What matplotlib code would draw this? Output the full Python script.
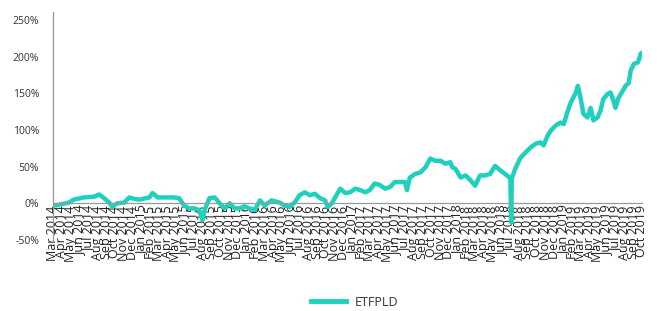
import matplotlib
matplotlib.use("Agg")
import matplotlib.pyplot as plt
import matplotlib.dates as mdates
import pandas as pd

series_name = "ETFPLD"
dates = [
    "2014-03-01", "2014-03-21", "2014-04-25", "2014-05-12", "2014-06-16", "2014-07-21",
    "2014-08-08", "2014-08-25", "2014-09-12", "2014-09-22", "2014-10-09", "2014-11-03",
    "2014-11-20", "2014-12-08", "2014-12-25", "2015-01-29", "2015-02-09", "2015-02-26",
    "2015-03-20", "2015-04-25", "2015-05-12", "2015-05-29", "2015-06-16", "2015-07-03",
    "2015-07-20", "2015-08-01", "2015-08-08", "2015-08-25", "2015-09-12", "2015-09-29",
    "2015-10-16", "2015-11-03", "2015-11-20", "2015-12-07", "2015-12-24", "2016-01-11",
    "2016-01-29", "2016-02-16", "2016-03-03", "2016-03-27", "2016-04-24", "2016-05-11",
    "2016-05-28", "2016-06-15", "2016-07-02", "2016-07-20", "2016-08-07", "2016-08-24",
    "2016-09-11", "2016-09-28", "2016-10-08", "2016-10-22", "2016-11-02", "2016-11-20",
    "2016-12-07", "2016-12-24", "2017-01-11", "2017-01-28", "2017-02-15", "2017-03-02",
    "2017-03-19", "2017-04-06", "2017-04-24", "2017-05-11", "2017-05-28", "2017-06-15",
    "2017-07-02", "2017-07-09", "2017-07-19", "2017-08-06", "2017-08-24", "2017-09-11",
    "2017-09-28", "2017-10-15", "2017-11-02", "2017-11-19", "2017-12-06", "2017-12-13",
    "2017-12-24", "2018-01-11", "2018-01-28", "2018-02-15", "2018-03-02", "2018-03-19",
    "2018-04-06", "2018-04-23", "2018-05-10", "2018-05-28", "2018-06-14", "2018-07-02",
    "2018-07-05", "2018-07-07", "2018-07-19", "2018-08-06", "2018-08-23", "2018-09-10",
    "2018-09-27", "2018-10-14", "2018-10-25", "2018-11-08", "2018-11-19", "2018-12-06",
    "2018-12-23", "2019-01-03", "2019-01-17", "2019-01-27", "2019-02-14", "2019-02-21",
    "2019-03-02", "2019-03-12", "2019-03-26", "2019-04-06", "2019-04-16", "2019-04-30",
    "2019-05-10", "2019-05-20", "2019-06-04", "2019-06-14", "2019-06-24", "2019-07-01",
    "2019-07-12", "2019-07-26", "2019-08-05", "2019-08-16", "2019-08-23", "2019-09-03",
    "2019-09-17", "2019-09-27", "2019-10-01",
]
values = [
    -3, -2, 1, 5, 8, 9,
    12, 7, 1, -5, 0, 1,
    8, 6, 5, 8, 14, 8,
    8, 8, 7, -3, -7, -7,
    -9, -23, -9, 7, 8, 0,
    -7, 0, -7, -7, -4, -7,
    -9, 4, -3, 4, 1, -3,
    -5, 1, 11, 15, 11, 13,
    7, 4, -5, 0, 8, 20,
    14, 15, 20, 18, 15, 18,
    27, 25, 20, 22, 29, 29,
    29, 18, 35, 40, 42, 49,
    61, 58, 58, 54, 56, 49,
    47, 35, 38, 31, 24, 38,
    38, 40, 51, 45, 40, 34,
    -26, 34, 47, 62, 69, 76,
    81, 83, 79, 92, 99, 106,
    110, 108, 126, 137, 151, 160,
    144, 122, 117, 130, 113, 117,
    126, 142, 149, 151, 140, 130,
    144, 153, 160, 164, 181, 190,
    192, 204, 205,
]
y_ticks = [-50, 0, 50, 100, 150, 200, 250]

plt.rcParams['font.family'] = ['Open Sans', 'DejaVu Sans']

x = pd.to_datetime(dates)
fig = plt.figure(figsize=(6.57, 3.11), dpi=100)
ax = fig.add_axes([53/657, 1-240/311, (642-53)/657, (240-12.5)/311])

line, = ax.plot(x, values, color='#1ED0BE', linewidth=3.2, solid_joinstyle='round')

ax.set_ylim(-50, 260)
ax.set_xlim(x[0], x[-1])
ax.set_yticks(y_ticks)
ax.set_yticklabels([f"{v}%" for v in y_ticks], fontsize=7.5, color='#333333')
ax.tick_params(axis='y', length=0, pad=10)

ax.xaxis.set_major_locator(mdates.MonthLocator())
ax.xaxis.set_major_formatter(mdates.DateFormatter('%b %Y'))
ax.tick_params(axis='x', length=0, pad=1.5, labelsize=9, labelcolor='#222222',
               labelrotation=90)

for s in ['top', 'right']:
    ax.spines[s].set_visible(False)
ax.spines['bottom'].set_position(('data', 0))
ax.spines['bottom'].set_color('#999999')
ax.spines['left'].set_color('#999999')
ax.spines['bottom'].set_linewidth(0.9)
ax.spines['left'].set_linewidth(0.9)

fig.legend([line], [series_name], loc='center', bbox_to_anchor=(355/657, 1-302/311),
           frameon=False, fontsize=9, handlelength=2.8, handletextpad=0.7)
for t in fig.legends[0].get_texts():
    t.set_color('#333333')
fig.legends[0].get_lines()[0].set_linewidth(3.5)

fig.savefig('out.png', dpi=100)
